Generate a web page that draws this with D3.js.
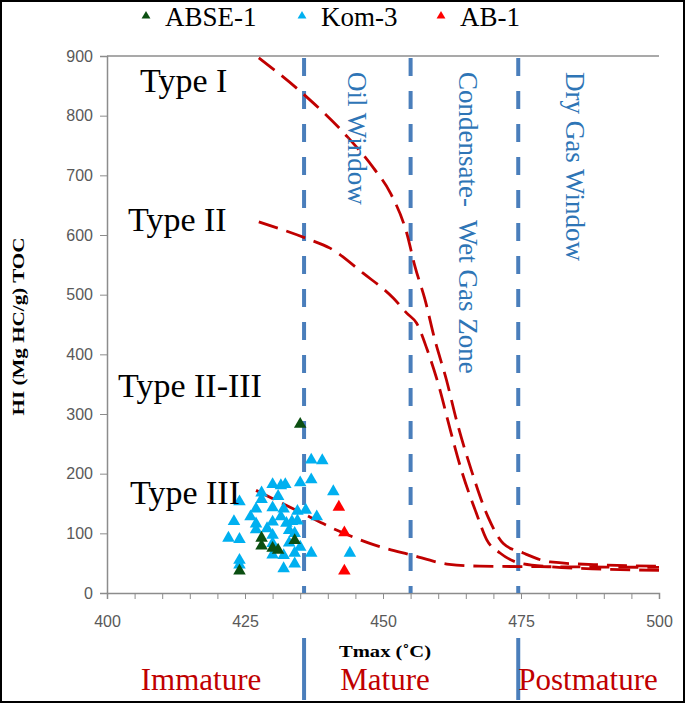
<!DOCTYPE html>
<html>
<head>
<meta charset="utf-8">
<script src="https://cdn.jsdelivr.net/npm/d3@7"></script>
<style>
  body { margin: 0; background: #fff; }
  svg { display: block; }
  text { white-space: pre; }
</style>
</head>
<body>
<svg id="chart" width="685" height="703"></svg>
<script>
// samples: [Tmax, HI]
const abse1 = [[435,283],[428,92],[428,79],[430,75],[431,72],[434,88],[424,37]]
const kom3 = [
  [437,223],[439,222],[437,190],[435,185],[430,182],[431.5,180],[432.3,182],[441,170],
  [424,153],[428,157],[431,162],[427,141],[430,143],[432,141],[434.5,137],[436,139],
  [438,128],[431.5,128],[423,120],[427,116],[427,106],[430,119],[432.5,117],[433.5,120],
  [434.5,121],[422,92],[424,90],[430,97],[434,100],[430,83],[433,84],[435,77],
  [437,67],[430,64],[432,63],[434,67],[444,67],[424,55],[424,47],[432,41],[434,49],
  [426,128],[429,108],[433,105],[428,168]
]
const ab1 = [[442,144],[443,101],[443,37]]

// kerogen type boundary curves
const typeI = [[427.5,897],[435.6,836],[443.4,766],[448.3,712],[451.3,671],[454.3,603],[455.8,547],
  [457.6,492],[459.4,424],[461.5,357],[463.3,290],[466,206],[469,128],[471.8,83],[475.4,67],
  [480.3,52],[490,47],[500,45]]
const typeII = [[427.5,622],[436.2,594],[440.4,578],[446.4,536],[451.9,494],[454.3,469],[456.1,452],
  [458,408],[460.3,341],[462,280],[464.2,206],[466.9,134],[468.8,89],[471.2,67],[474.8,50],
  [480.3,44],[490,40],[500,38]]
const typeIII = [[427,172],[435.3,134],[442.2,103],[448,82],[455,64],[462,48],[467.5,45],[480,44],[500,43]]

const windows = [435.7, 455, 474.5]
const xTicks = [400,425,450,475,500]
const yTicks = [0,100,200,300,400,500,600,700,800,900]

const svg = d3.select("#chart")
const x = d3.scaleLinear().domain([400,500]).range([107,659])
const y = d3.scaleLinear().domain([0,900]).range([593,56])

const blue = "#4a7ebb", red = "#c00000", gray = "#8c8c8c"

// outer frame
svg.append("rect").attr("x",1).attr("y",1).attr("width",683).attr("height",701)
  .attr("fill","none").attr("stroke","#000").attr("stroke-width",2)

// top border of plot
svg.append("line").attr("x1",x(400)).attr("x2",x(500)).attr("y1",y(900)).attr("y2",y(900))
  .attr("stroke",gray).attr("stroke-width",1.5)

// axes
const xAxis = svg.append("g").attr("transform",`translate(0,${y(0)})`)
  .call(d3.axisBottom(x).tickValues(d3.range(400,501,5)).tickSize(6).tickFormat(""))
const xLab = svg.append("g").attr("transform",`translate(0,${y(0)})`)
  .call(d3.axisBottom(x).tickValues(xTicks).tickSize(0).tickPadding(23).tickFormat(d3.format("d")))
const yAxis = svg.append("g").attr("transform",`translate(${x(400)},0)`)
  .call(d3.axisLeft(y).tickValues(yTicks).tickSize(7).tickPadding(7))
;[xAxis,xLab,yAxis].forEach(g => {
  g.select(".domain").attr("stroke",gray).attr("stroke-width",1.5)
  g.selectAll(".tick line").attr("stroke",gray)
  g.selectAll("text").attr("fill","#595959").style("font-family","Liberation Sans, Arial, sans-serif").style("font-size","16px")
})
xLab.select(".domain").remove()

// axis titles
svg.append("text").attr("transform",`translate(24,${y(450)+2}) rotate(-90)`)
  .attr("text-anchor","middle").style("font-family","Liberation Serif").style("font-weight","bold")
  .style("font-size","17px").attr("textLength",178).attr("lengthAdjust","spacingAndGlyphs")
  .text("HI (Mg HC/g) TOC")
svg.append("text").attr("x",385).attr("y",657).attr("text-anchor","middle")
  .style("font-family","Liberation Serif").style("font-weight","bold").style("font-size","17px")
  .attr("textLength",92).attr("lengthAdjust","spacingAndGlyphs")
  .text("Tmax (˚C)")

// maturity windows
svg.selectAll(".win").data(windows).enter().append("line").attr("class","win")
  .attr("x1",d => x(d)).attr("x2",d => x(d)).attr("y1",y(900)+2).attr("y2",y(0))
  .attr("stroke",blue).attr("stroke-width",4).attr("stroke-dasharray","18,15")

// kerogen curves
const line = d3.line().x(d => x(d[0])).y(d => y(d[1])).curve(d3.curveMonotoneX)
svg.selectAll(".kerogen").data([typeI,typeII,typeIII]).enter().append("path").attr("class","kerogen")
  .attr("d",line).attr("fill","none").attr("stroke",red).attr("stroke-width",2.8)
  .attr("stroke-dasharray","20,9")

// points
const tri = d3.symbol().type(d3.symbolTriangle).size(68)
function drawPoints(data, color){
  svg.append("g").selectAll("path").data(data).enter().append("path")
    .attr("d",tri).attr("transform",d => `translate(${x(d[0])},${y(d[1])})`)
    .attr("fill",color)
}
drawPoints(kom3,"#00b0f0")
drawPoints(abse1,"#0b4f12")
drawPoints(ab1,"#ff0000")

// legend
const legend = [{name:"ABSE-1",color:"#0b4f12",x:146},{name:"Kom-3",color:"#00b0f0",x:302},{name:"AB-1",color:"#ff0000",x:441}]
const lg = svg.selectAll(".lg").data(legend).enter().append("g").attr("class","lg")
  .attr("transform",d => `translate(${d.x},16)`)
lg.append("path").attr("d",d3.symbol().type(d3.symbolTriangle).size(34)).attr("fill",d => d.color)
lg.append("text").attr("x",19).attr("y",10).style("font-family","Liberation Serif")
  .style("font-size","27px").text(d => d.name)

// kerogen type labels
const typeLabels = [{t:"Type I",x:140,y:92},{t:"Type II",x:128,y:231},{t:"Type II-III",x:118,y:397},{t:"Type III",x:130,y:504}]
svg.selectAll(".tl").data(typeLabels).enter().append("text").attr("class","tl")
  .attr("x",d => d.x).attr("y",d => d.y).style("font-family","Liberation Serif")
  .style("font-size","34px").text(d => d.t)

// window labels (vertical)
const winLabels = [{t:"Oil Window",x:348},{t:"Condensate-  Wet Gas Zone",x:459},{t:"Dry Gas Window",x:566}]
svg.selectAll(".wl").data(winLabels).enter().append("text").attr("class","wl")
  .attr("transform",d => `translate(${d.x},72) rotate(90)`)
  .attr("fill","#2e75b6").style("font-family","Liberation Serif").style("font-size","27px")
  .text(d => d.t)

// maturity labels
svg.selectAll(".sep").data([x(435.7), x(474.5)]).enter().append("line").attr("class","sep")
  .attr("x1",d => d).attr("x2",d => d).attr("y1",638).attr("y2",700)
  .attr("stroke",blue).attr("stroke-width",4)
const matLabels = [{t:"Immature",x:201},{t:"Mature",x:385},{t:"Postmature",x:588}]
svg.selectAll(".ml").data(matLabels).enter().append("text").attr("class","ml")
  .attr("x",d => d.x).attr("y",690).attr("text-anchor","middle").attr("fill",red)
  .style("font-family","Liberation Serif").style("font-size","31px").text(d => d.t)
</script>
</body>
</html>
